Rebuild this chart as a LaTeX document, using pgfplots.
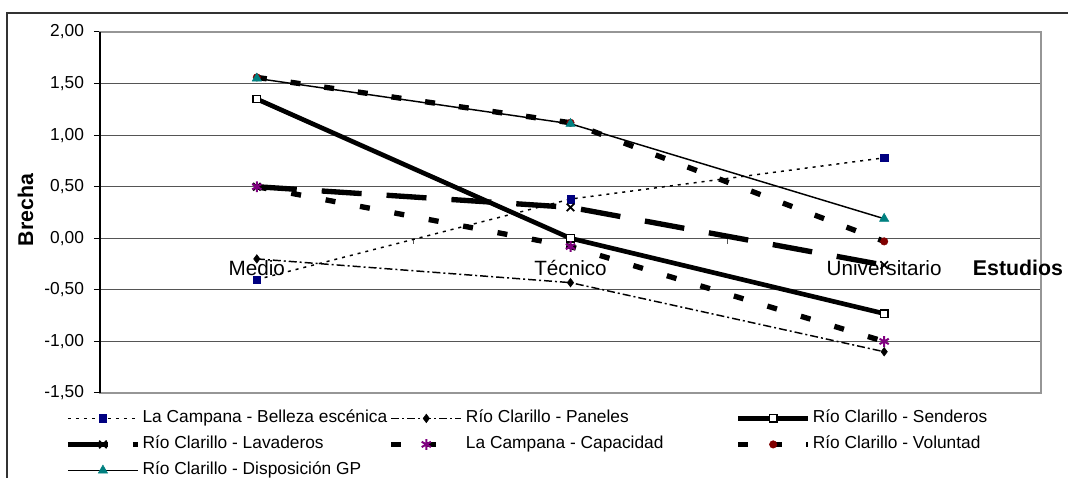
\documentclass[border=0pt]{standalone}
\usepackage{pgfplots}
\pgfplotsset{compat=1.18}
\usepackage{fontspec}
\setmainfont{Liberation Sans}

\definecolor{bnavy}{RGB}{0,0,128}
\definecolor{bpurple}{RGB}{128,0,128}
\definecolor{bred}{RGB}{128,0,0}
\definecolor{bteal}{RGB}{0,128,128}
\definecolor{gridgray}{RGB}{85,85,85}
\definecolor{framegray}{RGB}{150,150,150}

\pgfplotsset{
  longlegend/.style={legend image code/.code={%
    \draw[mark repeat=2,mark phase=2] plot coordinates {(0pt,0pt) (26.25pt,0pt) (52.5pt,0pt)};}},
}

\begin{document}
\begin{tikzpicture}
\begin{axis}[
  at={(75pt,63.75pt)}, anchor=south west,
  scale only axis, width=705.75pt, height=270.75pt,
  xmin=-0.5, xmax=2.5, ymin=-1.5, ymax=2,
  xtick=\empty,
  ytick={-1.5,-1,-0.5,0,0.5,1,1.5,2},
  ymajorgrids, grid style={gridgray, line width=0.75pt},
  axis line style={framegray, line width=1.1pt},
  y tick style={black, line width=0.75pt},
  tick align=outside, major tick length=4.5pt,
  ytick pos=left,
  yticklabel style={font=\fontsize{13}{15}\selectfont, xshift=-4pt,
    /pgf/number format/fixed, /pgf/number format/fixed zerofill,
    /pgf/number format/precision=2, /pgf/number format/use comma,
    /pgf/number format/assume math mode=true},
  clip=false,
  longlegend,
  legend columns=3,
  legend cell align=left,
  legend style={at={(-0.0372,-0.0466)}, anchor=north west, draw=none, fill=none,
    inner sep=0pt, row sep=7pt, font=\fontsize{13}{15}\selectfont,
    nodes={inner sep=0pt, text height=9.5pt, text depth=3pt},
    /tikz/every odd column/.append style={column sep=1.5pt},
    /tikz/column 2/.style={column sep=1pt},
    /tikz/column 4/.style={column sep=54pt}},
]
% category names sit just under the zero line, behind the series
\node[font=\fontsize{15.5}{18}\selectfont, anchor=base, yshift=-28pt] at (axis cs:0,0) {Medio};
\node[font=\fontsize{15.5}{18}\selectfont, anchor=base, yshift=-28pt] at (axis cs:1,0) {Técnico};
\node[font=\fontsize{15.5}{18}\selectfont, anchor=base, yshift=-28pt] at (axis cs:2,0) {Universitario};
\draw[gridgray, line width=0.75pt] (axis cs:0.5,0) -- ++(0pt,-4.5pt);
\draw[gridgray, line width=0.75pt] (axis cs:1.5,0) -- ++(0pt,-4.5pt);

\addplot[black, line width=1.1pt, dash pattern=on 2.25pt off 3.75pt,
  mark=square*, mark size=2.8pt, mark options={solid, fill=bnavy, draw=bnavy, line width=0.4pt}]
  coordinates {(0,-0.40) (1,0.38) (2,0.78)};
\addlegendentry{La Campana - Belleza escénica}

\addplot[black, line width=1.1pt, dash pattern=on 6pt off 2.25pt on 1.5pt off 2.25pt,
  mark=diamond*, mark size=3.2pt, mark options={solid, fill=black, line width=0.4pt}]
  coordinates {(0,-0.20) (1,-0.43) (2,-1.10)};
\addlegendentry{Río Clarillo - Paneles}

\addplot[black, line width=3.5pt,
  mark=square*, mark size=2.8pt, mark options={solid, fill=white, draw=black, line width=1pt}]
  coordinates {(0,1.35) (1,0.00) (2,-0.73)};
\addlegendentry{Río Clarillo - Senderos}

\addplot[black, line width=4pt, dash pattern=on 30pt off 18.75pt,
  mark=x, mark size=4pt, mark options={solid, line width=1.3pt}]
  coordinates {(0,0.50) (1,0.30) (2,-0.26)};
\addlegendentry{Río Clarillo - Lavaderos}

\addplot[black, line width=4pt, dash pattern=on 7.5pt off 18.75pt,
  mark=asterisk, mark size=4pt, mark options={solid, draw=bpurple, line width=1.5pt}]
  coordinates {(0,0.50) (1,-0.08) (2,-1.00)};
\addlegendentry{La Campana - Capacidad}

\addplot[black, line width=4pt, dash pattern=on 7.5pt off 18pt,
  mark=*, mark size=2.8pt, mark options={solid, fill=bred, draw=bred, line width=0.4pt}]
  coordinates {(0,1.56) (1,1.12) (2,-0.03)};
\addlegendentry{Río Clarillo - Voluntad}

\addplot[black, line width=1.1pt,
  mark=triangle*, mark size=4pt, mark options={solid, fill=bteal, draw=bteal, line width=0.4pt}]
  coordinates {(0,1.55) (1,1.11) (2,0.19)};
\addlegendentry{Río Clarillo - Disposición GP}

\draw[black, line width=0.9pt] (rel axis cs:0,0) -- (rel axis cs:0,1);
\end{axis}

% chart frame
\draw[black!80, line width=1.1pt] (5.25pt,-2pt) -- (5.25pt,348.75pt) -- (803pt,348.75pt);
\node[font=\bfseries\fontsize{16}{19}\selectfont, anchor=base] at (763.5pt,151.9pt) {Estudios};
\node[font=\bfseries\fontsize{16}{19}\selectfont, rotate=90, anchor=base] at (24.75pt,201pt) {Brecha};

\pgfresetboundingbox
\useasboundingbox (0,0) rectangle (801pt,358.5pt);
\end{tikzpicture}
\end{document}
